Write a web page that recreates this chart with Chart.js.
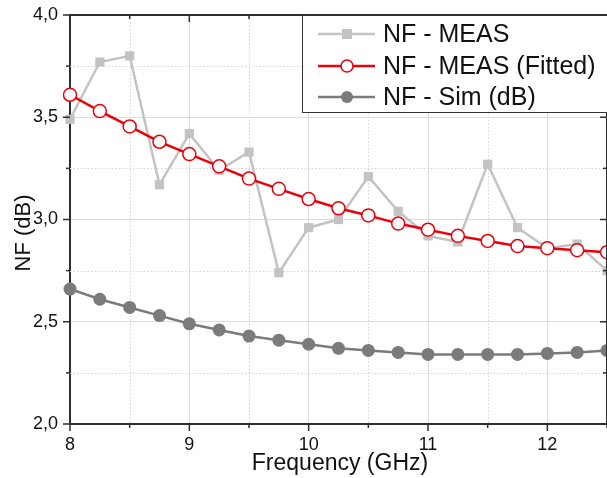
<!DOCTYPE html>
<html>
<head>
<meta charset="utf-8">
<script src="https://cdn.jsdelivr.net/npm/chart.js@4/dist/chart.umd.min.js"></script>
<style>
  html, body { margin: 0; padding: 0; background: #fff; overflow: hidden; }
  #wrap { width: 607px; height: 478px; overflow: hidden; }
</style>
</head>
<body>
<div id="wrap"><canvas id="myChart" width="615" height="478"></canvas></div>
<script>
// frequency points (GHz)
const freq = [8, 8.25, 8.5, 8.75, 9, 9.25, 9.5, 9.75, 10, 10.25, 10.5, 10.75, 11, 11.25, 11.5, 11.75, 12, 12.25, 12.5];

// NF values (dB)
const meas   = [3.49, 3.77, 3.80, 3.17, 3.42, 3.24, 3.33, 2.74, 2.96, 3.00, 3.21, 3.04, 2.92, 2.89, 3.27, 2.96, 2.86, 2.88, 2.75];
const fitted = [3.61, 3.53, 3.455, 3.38, 3.32, 3.26, 3.20, 3.15, 3.10, 3.055, 3.02, 2.98, 2.95, 2.92, 2.895, 2.87, 2.86, 2.85, 2.84];
const sim    = [2.66, 2.61, 2.57, 2.53, 2.49, 2.46, 2.43, 2.41, 2.39, 2.37, 2.36, 2.35, 2.34, 2.34, 2.34, 2.34, 2.345, 2.35, 2.36];

const seriesNames = ['NF - MEAS', 'NF - MEAS (Fitted)', 'NF - Sim (dB)'];

// axis ticks
const xTicks = [8, 9, 10, 11, 12];
const xMinor = [8.5, 9.5, 10.5, 11.5, 12.5];
const yTicks = [2.0, 2.5, 3.0, 3.5, 4.0];
const yMinor = [2.25, 2.75, 3.25, 3.75];

const FONT = '"Liberation Sans", Arial, sans-serif';
const GREY_L = '#c3c3c3';
const RED = '#e8000b';
const GREY_D = '#7b7b7b';
const AXIS = '#2e2e2e';

function pts(vals){
  return freq.map(function(f, i){ return {x: f, y: vals[i]}; });
}

function line(ctx, x1, y1, x2, y2){
  ctx.beginPath(); ctx.moveTo(x1, y1); ctx.lineTo(x2, y2); ctx.stroke();
}

const framePlugin = {
  id: 'frame',
  beforeDatasetsDraw(chart){
    const ctx = chart.ctx, a = chart.chartArea, x = chart.scales.x, y = chart.scales.y;
    ctx.save();
    ctx.strokeStyle = '#d4d4d4';
    ctx.lineWidth = 1;
    ctx.setLineDash([1.5, 2]);
    xMinor.forEach(function(v){
      const px = Math.round(x.getPixelForValue(v)) + 0.5;
      line(ctx, px, a.top, px, a.bottom);
    });
    yMinor.forEach(function(v){
      const py = Math.round(y.getPixelForValue(v)) + 0.5;
      line(ctx, a.left, py, a.right, py);
    });
    ctx.restore();
  },
  afterDatasetsDraw(chart){
    const ctx = chart.ctx, a = chart.chartArea, x = chart.scales.x, y = chart.scales.y;
    ctx.save();
    ctx.strokeStyle = AXIS;
    ctx.lineWidth = 2;
    // top and right frame
    line(ctx, a.left - 1, a.top, a.right, a.top);
    line(ctx, a.right, a.top, a.right, a.bottom);

    // tick marks: outside on left/bottom, inside on top/right
    ctx.lineWidth = 1.5;
    xTicks.forEach(function(v){
      const px = x.getPixelForValue(v);
      line(ctx, px, a.bottom, px, a.bottom + 7);
      line(ctx, px, a.top, px, a.top + 7);
    });
    xMinor.forEach(function(v){
      const px = x.getPixelForValue(v);
      line(ctx, px, a.bottom, px, a.bottom + 4);
      line(ctx, px, a.top, px, a.top + 4);
    });
    yTicks.forEach(function(v){
      const py = y.getPixelForValue(v);
      line(ctx, a.left - 7, py, a.left, py);
      line(ctx, a.right - 7, py, a.right, py);
    });
    yMinor.forEach(function(v){
      const py = y.getPixelForValue(v);
      line(ctx, a.left - 4, py, a.left, py);
      line(ctx, a.right - 4, py, a.right, py);
    });

    // legend
    const lx = 302, ly = a.top, lw = 400, lh = 97;
    ctx.fillStyle = '#fff';
    ctx.fillRect(lx, ly, lw, lh);
    ctx.lineWidth = 1;
    ctx.strokeStyle = '#333';
    ctx.strokeRect(lx + 0.5, ly + 0.5, lw, lh);
    const rows = [34, 66, 97];
    const colors = [GREY_L, RED, GREY_D];
    rows.forEach(function(ry, i){
      ctx.strokeStyle = colors[i];
      ctx.lineWidth = 2.5;
      line(ctx, 318, ry, 375, ry);
      if (i === 0){
        ctx.fillStyle = GREY_L;
        ctx.fillRect(347 - 5, ry - 5, 10, 10);
      } else if (i === 1){
        ctx.beginPath(); ctx.arc(347, ry, 6, 0, Math.PI * 2);
        ctx.fillStyle = '#fff'; ctx.fill();
        ctx.lineWidth = 1.5; ctx.strokeStyle = RED; ctx.stroke();
      } else {
        ctx.beginPath(); ctx.arc(347, ry, 6, 0, Math.PI * 2);
        ctx.fillStyle = GREY_D; ctx.fill();
      }
      ctx.fillStyle = '#111';
      ctx.font = '25px ' + FONT;
      ctx.textBaseline = 'middle';
      ctx.textAlign = 'left';
      ctx.fillText(seriesNames[i], 383, ry + 1);
    });

    // axis titles
    ctx.fillStyle = '#111';
    ctx.font = '23px ' + FONT;
    ctx.textAlign = 'center';
    ctx.textBaseline = 'alphabetic';
    ctx.fillText('Frequency (GHz)', 340, 470);
    ctx.font = '22px ' + FONT;
    ctx.translate(30, 233);
    ctx.rotate(-Math.PI / 2);
    ctx.fillText('NF (dB)', 0, 0);
    ctx.restore();
  }
};

var myChart = document.getElementById('myChart').getContext('2d');

var chart = new Chart(myChart, {
  type: 'line',
  data: {
    datasets: [
      {
        label: seriesNames[0],
        data: pts(meas),
        borderColor: GREY_L,
        backgroundColor: GREY_L,
        borderWidth: 2.5,
        pointStyle: 'rect',
        pointRadius: 6.5,
        pointBorderWidth: 0,
        tension: 0,
        clip: false,
        order: 2
      },
      {
        label: seriesNames[1],
        data: pts(fitted),
        borderColor: RED,
        backgroundColor: '#fff',
        borderWidth: 2.5,
        pointStyle: 'circle',
        pointRadius: 6.5,
        pointBorderWidth: 1.5,
        pointBorderColor: RED,
        pointBackgroundColor: '#fff',
        tension: 0,
        clip: false,
        order: 1
      },
      {
        label: seriesNames[2],
        data: pts(sim),
        borderColor: GREY_D,
        backgroundColor: GREY_D,
        borderWidth: 2.5,
        pointStyle: 'circle',
        pointRadius: 6.5,
        pointBorderWidth: 0,
        tension: 0,
        clip: false,
        order: 3
      }
    ]
  },
  options: {
    responsive: false,
    animation: false,
    events: [],
    layout: { padding: { left: 0, top: 15, right: 7, bottom: 0 } },
    plugins: { legend: { display: false }, tooltip: { enabled: false } },
    scales: {
      x: {
        type: 'linear',
        min: 8,
        max: 12.5,
        afterBuildTicks: function(scale){
          scale.ticks = xTicks.map(function(v){ return {value: v}; });
        },
        afterFit: function(scale){
          scale.height = 54;
          scale.paddingLeft = 0;
          scale.paddingRight = 0;
        },
        grid: {
          drawTicks: false,
          color: function(c){ return c.tick && c.tick.value === 8 ? 'rgba(0,0,0,0)' : '#dcdcdc'; },
          lineWidth: 1
        },
        border: { color: AXIS, width: 2 },
        ticks: {
          padding: 10,
          color: '#111',
          font: { family: FONT, size: 18 },
          callback: function(v){ return String(v); }
        }
      },
      y: {
        type: 'linear',
        min: 2,
        max: 4,
        afterBuildTicks: function(scale){
          scale.ticks = yTicks.map(function(v){ return {value: v}; });
        },
        afterFit: function(scale){
          scale.width = 70;
          scale.paddingTop = 0;
          scale.paddingBottom = 0;
        },
        grid: {
          drawTicks: false,
          color: function(c){
            const v = c.tick ? c.tick.value : 0;
            return (v === 2 || v === 4) ? 'rgba(0,0,0,0)' : '#dcdcdc';
          },
          lineWidth: 1
        },
        border: { color: AXIS, width: 2 },
        ticks: {
          padding: 12,
          color: '#111',
          font: { family: FONT, size: 18 },
          callback: function(v){ return v.toFixed(1).replace('.', ','); }
        }
      }
    }
  },
  plugins: [framePlugin]
});
</script>
</body>
</html>
